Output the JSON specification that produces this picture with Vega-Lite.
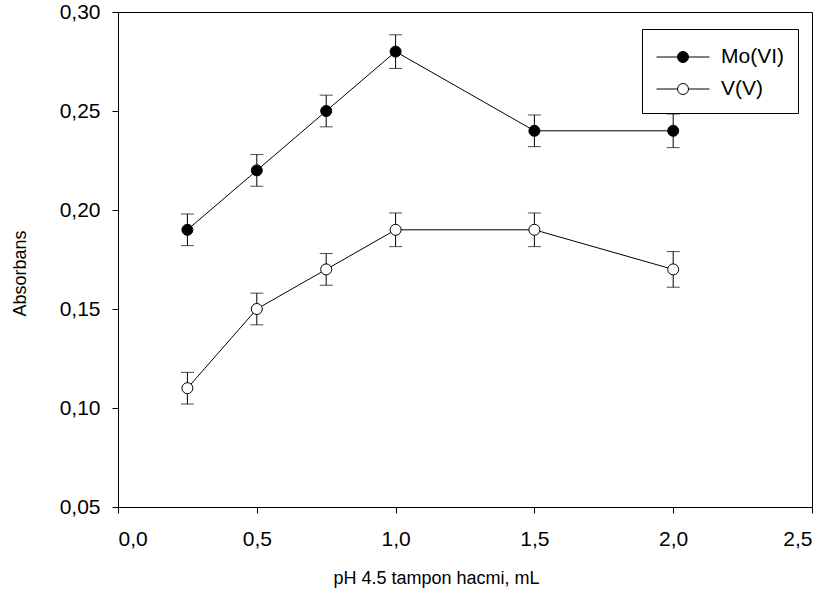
{
  "$schema": "https://vega.github.io/schema/vega-lite/v6.json",
  "width": 694,
  "height": 495,
  "autosize": "none",
  "padding": {"left": 118, "top": 12, "right": 21, "bottom": 93},
  "background": "white",
  "config": {
    "locale": {"number": {"decimal": ",", "thousands": ".", "grouping": [3], "currency": ["", ""]}},
    "font": "Liberation Sans",
    "view": {"stroke": "black", "strokeWidth": 1},
    "axis": {
      "grid": false,
      "domainColor": "black",
      "tickColor": "black",
      "tickSize": 6,
      "labelColor": "black",
      "labelFont": "Liberation Sans",
      "labelFontSize": 21,
      "titleFont": "Liberation Sans",
      "titleFontSize": 18,
      "titleFontWeight": "normal",
      "titleColor": "black"
    }
  },
  "data": {
    "values": [
      {"hacim": 0.25, "absorbans": 0.19, "hata": 0.008, "seri": "Mo(VI)"},
      {"hacim": 0.5, "absorbans": 0.22, "hata": 0.008, "seri": "Mo(VI)"},
      {"hacim": 0.75, "absorbans": 0.25, "hata": 0.008, "seri": "Mo(VI)"},
      {"hacim": 1.0, "absorbans": 0.28, "hata": 0.0085, "seri": "Mo(VI)"},
      {"hacim": 1.5, "absorbans": 0.24, "hata": 0.008, "seri": "Mo(VI)"},
      {"hacim": 2.0, "absorbans": 0.24, "hata": 0.0085, "seri": "Mo(VI)"},
      {"hacim": 0.25, "absorbans": 0.11, "hata": 0.008, "seri": "V(V)"},
      {"hacim": 0.5, "absorbans": 0.15, "hata": 0.008, "seri": "V(V)"},
      {"hacim": 0.75, "absorbans": 0.17, "hata": 0.008, "seri": "V(V)"},
      {"hacim": 1.0, "absorbans": 0.19, "hata": 0.0085, "seri": "V(V)"},
      {"hacim": 1.5, "absorbans": 0.19, "hata": 0.0085, "seri": "V(V)"},
      {"hacim": 2.0, "absorbans": 0.17, "hata": 0.009, "seri": "V(V)"}
    ]
  },
  "encoding": {
    "x": {
      "field": "hacim",
      "type": "quantitative",
      "scale": {"domain": [0, 2.5], "nice": false, "zero": false},
      "axis": {"values": [0, 0.5, 1, 1.5, 2, 2.5], "format": ".1f", "title": "pH 4.5 tampon hacmi, mL", "labelPadding": 15, "titlePadding": 20, "titleX": 318}
    },
    "y": {
      "field": "absorbans",
      "type": "quantitative",
      "scale": {"domain": [0.05, 0.3], "nice": false, "zero": false},
      "axis": {"values": [0.05, 0.1, 0.15, 0.2, 0.25, 0.3], "format": ".2f", "title": "Absorbans", "labelPadding": 12, "titlePadding": 30, "titleY": 261}
    }
  },
  "layer": [
    {
      "mark": {"type": "errorbar", "color": "black", "thickness": 1, "ticks": {"size": 13, "color": "black", "thickness": 1}},
      "encoding": {
        "yError": {"field": "hata"},
        "detail": {"field": "seri"}
      }
    },
    {
      "mark": {"type": "line", "color": "black", "strokeWidth": 1},
      "encoding": {"detail": {"field": "seri", "type": "nominal"}}
    },
    {
      "mark": {"type": "point", "filled": false, "stroke": "black", "strokeWidth": 1, "size": 121, "shape": "circle", "opacity": 1},
      "encoding": {
        "fill": {
          "field": "seri",
          "type": "nominal",
          "scale": {"domain": ["Mo(VI)", "V(V)"], "range": ["black", "white"]},
          "legend": {
            "title": null,
            "orient": "none",
            "legendX": 524,
            "legendY": 17,
            "padding": 14,
            "strokeColor": "black",
            "fillColor": "white",
            "symbolType": "M-2,0L-0.415,0M0.415,0L2,0M-0.415,0A0.415,0.415,0,1,1,0.415,0A0.415,0.415,0,1,1,-0.415,0Z",
            "symbolSize": 702,
            "symbolOffset": 13,
            "symbolStrokeColor": "black",
            "symbolStrokeWidth": 1,
            "symbolOpacity": 1,
            "labelFont": "Liberation Sans",
            "labelFontSize": 21,
            "labelColor": "black",
            "labelOffset": 24,
            "rowPadding": 8
          }
        }
      }
    }
  ]
}
